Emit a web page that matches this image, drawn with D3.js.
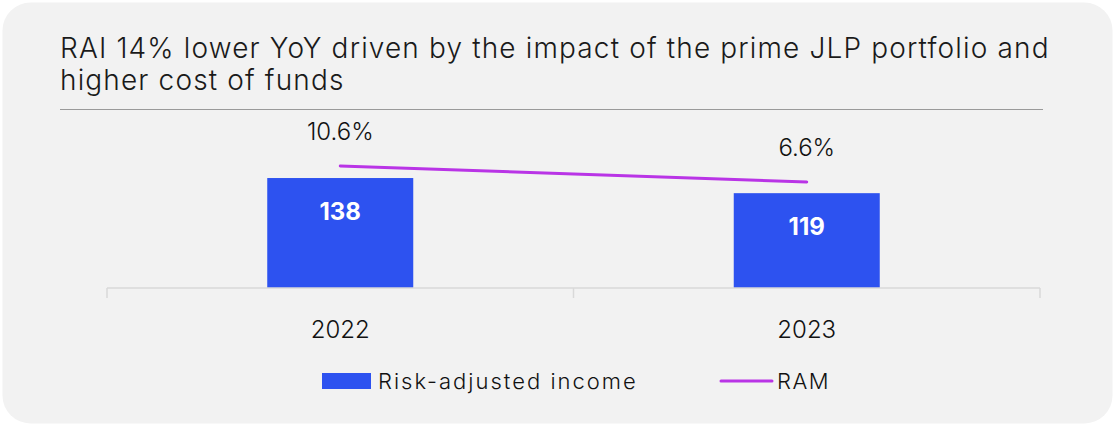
<!DOCTYPE html>
<html>
<head>
<meta charset="utf-8">
<script src="https://cdn.jsdelivr.net/npm/d3@7"></script>
<style>
  html, body { margin: 0; padding: 0; background: #ffffff; }
  svg { display: block; font-family: Inter, "Noto Sans", sans-serif; }
</style>
</head>
<body>
<svg id="chart" width="1115" height="426"></svg>
<script>
// Chart data
const titleLines = [
  "RAI 14% lower YoY driven by the impact of the prime JLP portfolio and",
  "higher cost of funds"
];
const categories = ["2022", "2023"];
const incomeValues = [138, 119];          // Risk-adjusted income
const ramValues = [10.6, 6.6];            // RAM, %
const legendLabels = ["Risk-adjusted income", "RAM"];

const barColor = "#2d52f0";
const lineColor = "#b934e6";
const textColor = "#111111";

const svg = d3.select("#chart");

// Card background
svg.append("rect")
  .attr("x", 2.5).attr("y", 2.5)
  .attr("width", 1110).attr("height", 421)
  .attr("rx", 28).attr("ry", 28)
  .attr("fill", "#f2f2f2");

// Title
const title = svg.append("text")
  .attr("x", 60)
  .attr("font-size", 28)
  .attr("font-weight", 300)
  .attr("letter-spacing", 1.15)
  .attr("fill", "#1a1a1a");
titleLines.forEach((t, i) => {
  title.append("tspan").attr("x", 60).attr("y", 58 + i * 32).text(t);
});

// Divider under the title
svg.append("line")
  .attr("x1", 60).attr("x2", 1043)
  .attr("y1", 109.5).attr("y2", 109.5)
  .attr("stroke", "#9a9a9a").attr("stroke-width", 1.2);

// Scales
const x = d3.scaleBand().domain(categories).range([107, 1040]).paddingInner(0).paddingOuter(0);
const y = d3.scaleLinear().domain([0, 160]).range([288, 160.5]);
const y2 = d3.scaleLinear().domain([0, 20]).range([208.4, 128.4]);
const barW = 146;
const cx = c => x(c) + x.bandwidth() / 2;

// Bars
svg.selectAll("rect.bar")
  .data(incomeValues)
  .join("rect")
  .attr("class", "bar")
  .attr("x", (d, i) => cx(categories[i]) - barW / 2)
  .attr("y", d => y(d))
  .attr("width", barW)
  .attr("height", d => y(0) - y(d))
  .attr("fill", barColor);

// Bar value labels
svg.selectAll("text.barlabel")
  .data(incomeValues)
  .join("text")
  .attr("class", "barlabel")
  .attr("x", (d, i) => cx(categories[i]))
  .attr("y", d => y(d) + 42)
  .attr("text-anchor", "middle")
  .attr("font-size", 24)
  .attr("font-weight", 700)
  .attr("fill", "#ffffff")
  .text(d => d);

// Category axis
const axis = svg.append("g").attr("transform", "translate(0,288)");
axis.append("line")
  .attr("x1", 107).attr("x2", 1040)
  .attr("stroke", "#d9d9d9").attr("stroke-width", 1.5);
const tickXs = [x(categories[0]), x(categories[1]), x(categories[1]) + x.bandwidth()];
axis.selectAll("line.tick")
  .data(tickXs)
  .join("line")
  .attr("class", "tick")
  .attr("x1", d => d).attr("x2", d => d)
  .attr("y1", 0).attr("y2", 10)
  .attr("stroke", "#d9d9d9").attr("stroke-width", 1.5);
axis.selectAll("text")
  .data(categories)
  .join("text")
  .attr("x", d => cx(d))
  .attr("y", 50)
  .attr("text-anchor", "middle")
  .attr("font-size", 24)
  .attr("font-weight", 300)
  .attr("fill", textColor)
  .text(d => d);

// RAM line
const linePts = ramValues.map((v, i) => [cx(categories[i]), y2(v)]);
svg.append("path")
  .attr("d", d3.line()(linePts))
  .attr("fill", "none")
  .attr("stroke", lineColor)
  .attr("stroke-width", 3)
  .attr("stroke-linecap", "round");

svg.selectAll("text.ramlabel")
  .data(ramValues)
  .join("text")
  .attr("class", "ramlabel")
  .attr("x", (d, i) => cx(categories[i]))
  .attr("y", d => y2(d) - 26)
  .attr("text-anchor", "middle")
  .attr("font-size", 24)
  .attr("font-weight", 300)
  .attr("fill", textColor)
  .text(d => d.toFixed(1) + "%");

// Legend
const legend = svg.append("g");
legend.append("rect")
  .attr("x", 322).attr("y", 373)
  .attr("width", 49).attr("height", 16)
  .attr("fill", barColor);
legend.append("text")
  .attr("x", 378).attr("y", 389)
  .attr("font-size", 22).attr("font-weight", 300)
  .attr("letter-spacing", 2)
  .attr("fill", textColor)
  .text(legendLabels[0]);
legend.append("line")
  .attr("x1", 721).attr("x2", 772)
  .attr("y1", 381).attr("y2", 381)
  .attr("stroke", lineColor).attr("stroke-width", 3)
  .attr("stroke-linecap", "round");
legend.append("text")
  .attr("x", 777).attr("y", 389)
  .attr("font-size", 22).attr("font-weight", 300)
  .attr("letter-spacing", 1.5)
  .attr("fill", textColor)
  .text(legendLabels[1]);
</script>
</body>
</html>
